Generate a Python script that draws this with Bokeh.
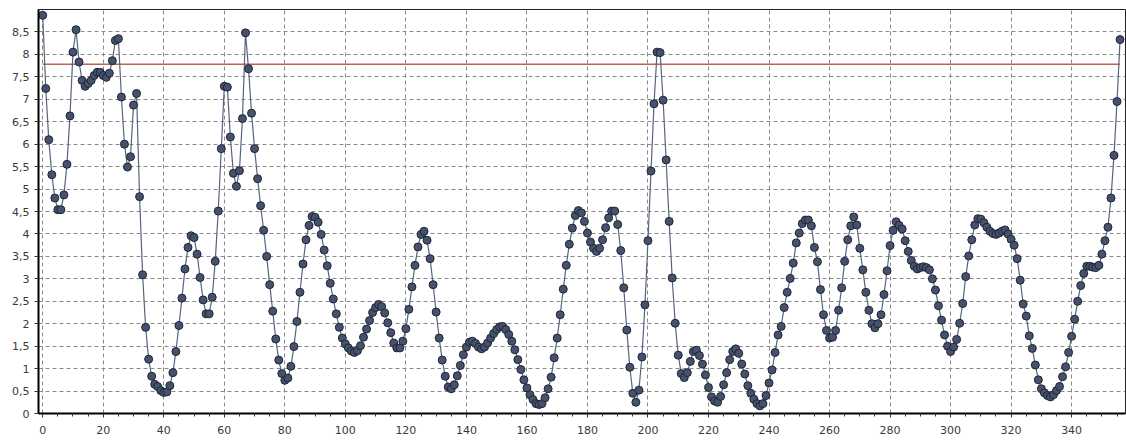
from bokeh.plotting import figure
from bokeh.models import Range1d, FixedTicker, CustomJSTickFormatter, ColumnDataSource
from bokeh.embed import file_html
from bokeh.resources import INLINE

# series values, one per x step (x = 0, 1, 2, ...)
values = [
    8.87, 7.24, 6.10, 5.32, 4.80, 4.54, 4.54, 4.87, 5.55, 6.63,
    8.05, 8.55, 7.83, 7.42, 7.29, 7.35, 7.42, 7.53, 7.60, 7.60,
    7.53, 7.49, 7.58, 7.86, 8.31, 8.35, 7.05, 6.00, 5.49, 5.72,
    6.87, 7.13, 4.83, 3.09, 1.92, 1.21, 0.83, 0.65, 0.60, 0.51,
    0.47, 0.48, 0.62, 0.91, 1.38, 1.96, 2.57, 3.22, 3.70, 3.96,
    3.92, 3.55, 3.03, 2.53, 2.22, 2.22, 2.59, 3.39, 4.51, 5.90,
    7.29, 7.27, 6.16, 5.35, 5.06, 5.41, 6.57, 8.48, 7.68, 6.69,
    5.90, 5.23, 4.63, 4.08, 3.50, 2.87, 2.28, 1.66, 1.19, 0.89,
    0.74, 0.79, 1.05, 1.49, 2.05, 2.70, 3.33, 3.87, 4.19, 4.39,
    4.37, 4.26, 3.99, 3.64, 3.29, 2.90, 2.55, 2.22, 1.92, 1.68,
    1.55, 1.46, 1.39, 1.36, 1.40, 1.51, 1.70, 1.88, 2.07, 2.25,
    2.36, 2.43, 2.38, 2.24, 2.02, 1.80, 1.57, 1.46, 1.46, 1.61,
    1.89, 2.32, 2.82, 3.30, 3.71, 3.99, 4.06, 3.86, 3.45, 2.87,
    2.26, 1.68, 1.19, 0.83, 0.59, 0.55, 0.64, 0.84, 1.07, 1.31,
    1.48, 1.59, 1.61, 1.56, 1.48, 1.44, 1.48, 1.57, 1.68, 1.78,
    1.87, 1.93, 1.94, 1.87, 1.76, 1.61, 1.42, 1.20, 0.98, 0.75,
    0.57, 0.42, 0.31, 0.22, 0.20, 0.22, 0.35, 0.55, 0.81, 1.24,
    1.68, 2.20, 2.77, 3.30, 3.77, 4.13, 4.41, 4.52, 4.47, 4.28,
    4.02, 3.82, 3.68, 3.61, 3.68, 3.87, 4.14, 4.36, 4.51, 4.51,
    4.21, 3.63, 2.80, 1.86, 1.03, 0.45, 0.25, 0.52, 1.26, 2.42,
    3.85, 5.40, 6.90, 8.05, 8.04, 6.98, 5.65, 4.28, 3.02, 2.01,
    1.30, 0.89, 0.80, 0.91, 1.16, 1.38, 1.41, 1.29, 1.10, 0.86,
    0.58, 0.37, 0.28, 0.25, 0.38, 0.64, 0.91, 1.20, 1.38, 1.44,
    1.34, 1.10, 0.88, 0.62, 0.45, 0.32, 0.22, 0.17, 0.22, 0.40,
    0.68, 0.97, 1.36, 1.75, 1.94, 2.36, 2.70, 3.01, 3.35, 3.80,
    4.02, 4.23, 4.31, 4.31, 4.18, 3.70, 3.38, 2.76, 2.20, 1.85,
    1.68, 1.70, 1.85, 2.30, 2.80, 3.39, 3.87, 4.18, 4.38, 4.20,
    3.68, 3.20, 2.70, 2.30, 2.00, 1.91, 2.00, 2.20, 2.65, 3.18,
    3.74, 4.08, 4.27, 4.19, 4.11, 3.85, 3.61, 3.41, 3.28, 3.22,
    3.25, 3.27, 3.25, 3.20, 3.00, 2.75, 2.40, 2.08, 1.75, 1.50,
    1.38, 1.48, 1.65, 2.01, 2.45, 3.05, 3.51, 3.87, 4.20, 4.34,
    4.33, 4.25, 4.15, 4.06, 4.01, 3.99, 4.02, 4.06, 4.09, 4.00,
    3.88, 3.75, 3.45, 2.97, 2.44, 2.17, 1.73, 1.45, 1.08, 0.75,
    0.55, 0.46, 0.40, 0.37, 0.42, 0.51, 0.60, 0.82, 1.04, 1.36,
    1.72, 2.10, 2.50, 2.85, 3.12, 3.28, 3.28, 3.26, 3.25, 3.30,
    3.55, 3.85, 4.15, 4.80, 5.75, 6.95, 8.33,
]
x_values = list(range(len(values)))

threshold = 7.78

x_major_ticks = [0, 20, 40, 60, 80, 100, 120, 140, 160, 180, 200,
                 220, 240, 260, 280, 300, 320, 340]
x_minor_ticks = [v for v in range(0, 360, 5) if v % 20 != 0]
y_major_ticks = [0, 0.5, 1, 1.5, 2, 2.5, 3, 3.5, 4, 4.5, 5, 5.5,
                 6, 6.5, 7, 7.5, 8, 8.5]

src = ColumnDataSource(data=dict(x=x_values, y=values))

p = figure(width=1126, height=440, output_backend="svg", toolbar_location=None,
           x_range=Range1d(-1.4, 357.8), y_range=Range1d(0, 9.0),
           min_border_left=38, min_border_right=1, min_border_top=9,
           min_border_bottom=27)

p.background_fill_color = "white"
p.border_fill_color = "white"
p.outline_line_color = "#222222"
p.outline_line_width = 1

# threshold line across the data range
p.segment(x0=[x_values[0]], y0=[threshold], x1=[x_values[-1]], y1=[threshold],
          line_color="#c0625a", line_width=1.5)

p.line("x", "y", source=src, line_color="#56647c", line_width=1.2)
p.scatter("x", "y", source=src, size=8, marker="circle",
          fill_color="#46516c", line_color="#1e2636", line_width=1)

# axes
p.xaxis.ticker = FixedTicker(ticks=x_major_ticks, minor_ticks=x_minor_ticks)
p.yaxis.ticker = FixedTicker(ticks=y_major_ticks)
p.yaxis.formatter = CustomJSTickFormatter(code="return tick.toString().replace('.', ',');")

for ax in (p.xaxis[0], p.yaxis[0]):
    ax.axis_line_color = "black"
    ax.axis_line_width = 2
    ax.major_tick_line_color = "#333333"
    ax.minor_tick_line_color = "#333333"
    ax.major_tick_in = 0
    ax.major_tick_out = 4
    ax.minor_tick_in = 0
    ax.minor_tick_out = 3
    ax.major_label_text_font = "DejaVu Sans"
    ax.major_label_text_font_size = "11px"
    ax.major_label_text_color = "#3a3a3a"

p.xaxis.major_label_standoff = 8
p.yaxis.major_label_standoff = 5
p.yaxis.minor_tick_line_color = None

# grid
for g in (p.xgrid[0], p.ygrid[0]):
    g.grid_line_color = "#8a8a8a"
    g.grid_line_dash = "4 3"
    g.grid_line_width = 1
p.xgrid.ticker = FixedTicker(ticks=x_major_ticks)
p.ygrid.ticker = FixedTicker(ticks=y_major_ticks)

open("out.html", "w").write(file_html(p, INLINE))
